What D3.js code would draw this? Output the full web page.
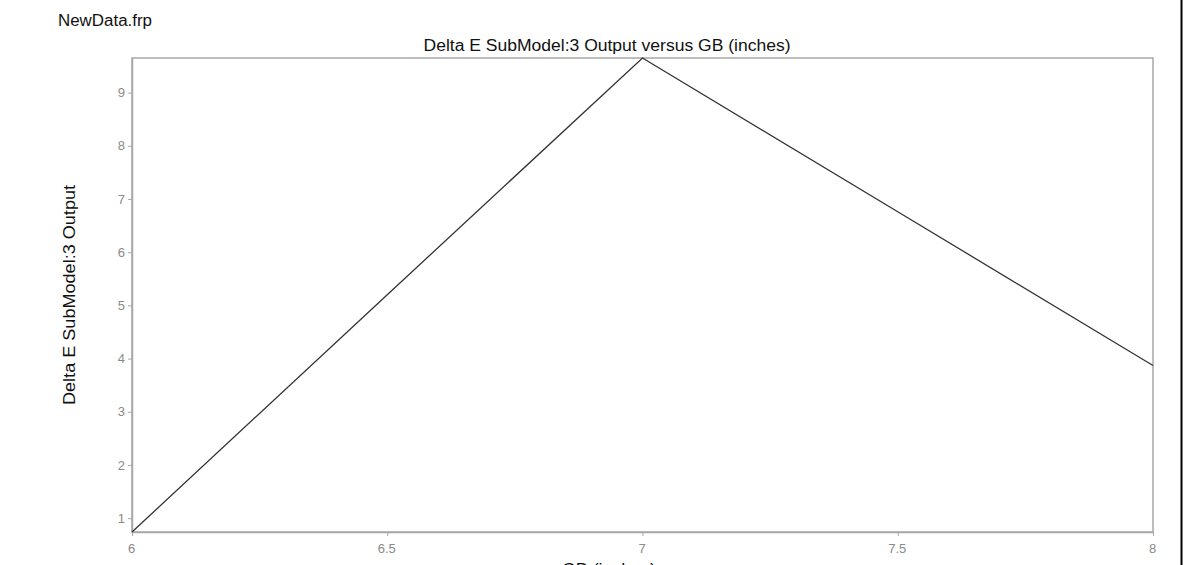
<!DOCTYPE html>
<meta charset="utf-8">
<script src="https://d3js.org/d3.v7.min.js"></script>
<style>
  body { margin: 0; background: #fff; }
  svg text { font-family: "Liberation Sans", Arial, sans-serif; }
</style>
<div id="chart"></div>
<script>

// data
var gb = [6, 6.5, 7, 7.5, 8];
var deltaE = [0.74, 5.2, 9.65, 6.76, 3.87];
var xTicks = [6, 6.5, 7, 7.5, 8];
var yTicks = [1, 2, 3, 4, 5, 6, 7, 8, 9];

var W = 1183, H = 565;
var margin = {top: 58, right: 30, bottom: 33, left: 132},
    width = W - margin.left - margin.right,
    height = H - margin.top - margin.bottom;

var svg = d3.select("#chart").append("svg")
    .attr("width", W)
    .attr("height", H);

// right edge border
svg.append("line")
  .attr("x1", W - 1.5).attr("x2", W - 1.5)
  .attr("y1", 0).attr("y2", H)
  .attr("stroke", "#000").attr("stroke-width", 2);

// texts are a bit wider than Liberation Sans, so stretch them
function label(sel, txt, len) {
  return sel.append("text")
    .attr("font-size", 16).attr("fill", "#111")
    .attr("textLength", len).attr("lengthAdjust", "spacingAndGlyphs")
    .text(txt);
}

label(svg, "NewData.frp", 94)
  .attr("x", 58).attr("y", 26);

label(svg, "Delta E SubModel:3 Output versus GB (inches)", 367)
  .attr("x", 607).attr("y", 51)
  .attr("text-anchor", "middle");

var g = svg.append("g")
  .attr("transform", "translate(" + margin.left + "," + margin.top + ")");

var x = d3.scaleLinear()
  .domain(d3.extent(gb))
  .range([0, width]);

var y = d3.scaleLinear()
  .domain(d3.extent(deltaE))
  .range([height, 0]);

// frame
g.append("rect")
  .attr("width", width).attr("height", height)
  .attr("fill", "none").attr("stroke", "#a8a8a8").attr("stroke-width", 1.5);

var xAxis = g.append("g")
  .attr("transform", "translate(0," + height + ")")
  .call(d3.axisBottom(x).tickValues(xTicks).tickSize(4).tickSizeOuter(0)
    .tickFormat(d3.format("")));

var yAxis = g.append("g")
  .call(d3.axisLeft(y).tickValues(yTicks).tickSize(4).tickSizeOuter(0));

[xAxis, yAxis].forEach(function(a) {
  a.select(".domain").attr("stroke", "#a8a8a8").attr("stroke-width", 1.5);
  a.selectAll(".tick line").attr("stroke", "#a8a8a8");
  a.selectAll(".tick text").attr("fill", "#8a8a8a").attr("font-size", 13)
    .attr("font-family", "\"Liberation Sans\", Arial, sans-serif");
});
xAxis.selectAll(".tick text").attr("dy", "1.05em").attr("x", -1);

g.append("path")
  .datum(gb.map(function(v, i) { return [v, deltaE[i]]; }))
  .attr("fill", "none")
  .attr("stroke", "#333")
  .attr("stroke-width", 1.3)
  .attr("d", d3.line()
    .x(function(d) { return x(d[0]); })
    .y(function(d) { return y(d[1]); }));

label(svg, "Delta E SubModel:3 Output", 220)
  .attr("transform", "translate(75,295) rotate(-90)")
  .attr("text-anchor", "middle");

label(svg, "GB (inches)", 94)
  .attr("x", 609).attr("y", 575)
  .attr("text-anchor", "middle");

</script>
